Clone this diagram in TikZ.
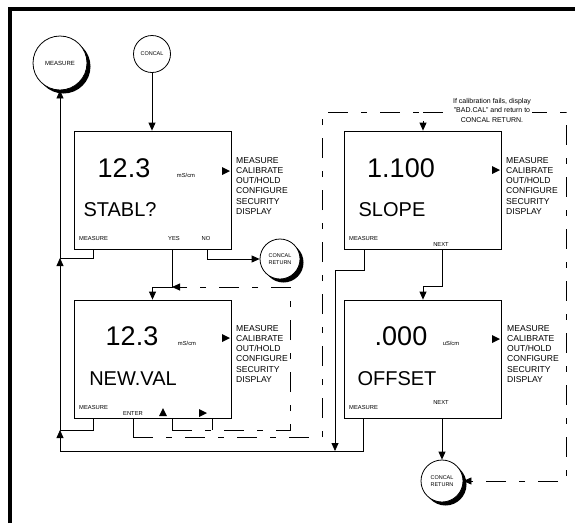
\documentclass[tikz,border=0pt]{standalone}
\usepackage{fontspec}
\setmainfont{Liberation Sans}
\usepackage{tikz}
\usetikzlibrary{arrows.meta}
\usetikzlibrary{shadows}

\newcommand{\menulist}{MEASURE\\CALIBRATE\\OUT/HOLD\\CONFIGURE\\SECURITY\\DISPLAY}

\tikzset{
    screen/.style = {draw, line width=0.8pt, minimum width=157pt, minimum height=118pt, inner sep=0pt},
    reading/.style = {font=\fontsize{27}{27}\selectfont},
    prompt/.style = {font=\fontsize{20}{20}\selectfont},
    keytext/.style = {font=\fontsize{5.8}{6}\selectfont, inner sep=0pt},
    menutext/.style = {font=\fontsize{8.6}{10.2}\selectfont, align=left, anchor=north west, inner sep=0pt},
    station/.style = {draw, circle, fill=white, line width=0.8pt, inner sep=0pt, align=center, font=\fontsize{5.5}{7}\selectfont},
    shade/.style = {drop shadow={shadow xshift=3.5pt, shadow yshift=-3.5pt, fill=black, opacity=1}},
    wire/.style = {line width=0.8pt},
    link/.style = {wire, -{Triangle[length=8pt,width=7pt]}},
    dashlink/.style = {link, dash pattern=on 20pt off 13pt on 6pt off 13pt},
    pointer/.pic = {\fill (-4,-4) -- (4,0) -- (-4,4) -- cycle;}
}

\begin{document}
\begin{tikzpicture}[x=1pt, y=-1pt]
        \useasboundingbox (0,0) rectangle (575,523);
        \draw[line width=4pt] (10,523) -- (10,9) -- (575,9);

        % round stations
        \node[station, shade, minimum size=54pt, font=\fontsize{6}{7}\selectfont] (measure) at (60,63) {MEASURE};
        \node[station, minimum size=37pt] (concal) at (152,54) {CONCAL};
        \node[station, shade, minimum size=40pt] (ret1) at (280,259) {CONCAL\\RETURN};
        \node[station, shade, minimum size=42pt] (ret2) at (442,481) {CONCAL\\RETURN};

        % STABL? screen
        \begin{scope}
            \node[screen] (stabl) at (152.5,190) {};
            \node[reading] (stabl-val) at (124,168) {12.3};
            \node[keytext] (stabl-unit) at (186,175) {mS/cm};
            \node[prompt] (stabl-msg) at (120,210) {STABL?};
            \node[keytext, anchor=west] (stabl-k1) at (79,238) {MEASURE};
            \node[keytext] (stabl-k2) at (174,238) {YES};
            \node[keytext] (stabl-k3) at (206,238) {NO};
            \pic at (226,171) {pointer};
            \node[menutext] (stabl-menu) at (236,157) {\menulist};
        \end{scope}

        % NEW.VAL screen
        \begin{scope}
            \node[screen] (newval) at (152.5,359) {};
            \node[reading] (newval-val) at (132,336) {12.3};
            \node[keytext] (newval-unit) at (187,343) {mS/cm};
            \node[prompt] (newval-msg) at (133,379) {NEW.VAL};
            \node[keytext, anchor=west] (newval-k1) at (79,407) {MEASURE};
            \node[keytext] (newval-k2) at (133,413) {ENTER};
            \pic[rotate=90] at (163,412) {pointer};
            \pic at (203,413) {pointer};
            \pic at (226,338) {pointer};
            \node[menutext] (newval-menu) at (236,325) {\menulist};
        \end{scope}

        % SLOPE screen
        \begin{scope}
            \node[screen] (slope) at (423,190) {};
            \node[reading] (slope-val) at (401,168) {1.100};
            \node[prompt] (slope-msg) at (392,210) {SLOPE};
            \node[keytext, anchor=west] (slope-k1) at (349,238) {MEASURE};
            \node[keytext] (slope-k2) at (441,244) {NEXT};
            \pic at (496,170) {pointer};
            \node[menutext] (slope-menu) at (506,157) {\menulist};
        \end{scope}

        % OFFSET screen
        \begin{scope}
            \node[screen] (offset) at (423,359) {};
            \node[reading] (offset-val) at (401,336) {.000};
            \node[keytext] (offset-unit) at (451,343) {uS/cm};
            \node[prompt] (offset-msg) at (397,379) {OFFSET};
            \node[keytext, anchor=west] (offset-k1) at (349,407) {MEASURE};
            \node[keytext] (offset-k2) at (441,402) {NEXT};
            \pic at (496,339) {pointer};
            \node[menutext] (offset-menu) at (507,325) {\menulist};
        \end{scope}

        % key ports and bends
        \coordinate (stabl-meas) at (93,249);
        \coordinate (stabl-yes) at (172,249);
        \coordinate (stabl-no) at (207,249);
        \coordinate (newval-meas) at (93,418);
        \coordinate (newval-enter) at (133,418);
        \coordinate (newval-up) at (172,418);
        \coordinate (newval-right) at (212,418);
        \coordinate (slope-meas) at (364,249);
        \coordinate (slope-next) at (442,249);
        \coordinate (offset-meas) at (363,418);
        \coordinate (offset-next) at (442,418);

        \coordinate (jn-high) at (60,258);
        \coordinate (jn-low) at (60,430);
        \coordinate (bot-left) at (60,451);
        \coordinate (sl-bend) at (335,270);
        \coordinate (sl-join) at (335,451);
        \coordinate (yes-jn) at (172,287);
        \coordinate (loop-a) at (172,430);
        \coordinate (loop-c) at (290,287);
        \coordinate (ent-a) at (133,437);
        \coordinate (ent-b) at (322,112);
        \coordinate (fail-a) at (566,112);
        \coordinate (next-bend) at (442,286);

        % back to MEASURE
        \draw[link] (bot-left) -- (jn-low);
        \draw[link] (jn-low) -- (jn-high);
        \draw[link] (jn-high) -- (measure);
        \draw[wire] (stabl-meas) |- (jn-high);
        \draw[wire] (newval-meas) |- (jn-low);
        \draw[wire] (offset-meas) |- (bot-left);
        \draw[link] (slope-meas) |- (sl-bend) -- (sl-join);

        \draw[link] (concal) -- (concal |- stabl.north);
        \draw[link] (stabl-yes) -- (yes-jn) -| (newval.north);
        \draw[link] (stabl-no) |- (ret1);

        \draw[wire] (newval-up) -- (loop-a);
        \draw[wire] (newval-right) -- (newval-right |- loop-a);
        \draw[dashlink] (loop-a) -| (loop-c) -- (yes-jn);

        \draw[wire] (newval-enter) -- (ent-a);
        \draw[dashlink] (ent-a) -| (ent-b) -| (slope.north);
        \draw[dashlink] (slope.north |- ent-b) -- (fail-a) |- (ret2);

        \draw[link] (slope-next) -- (next-bend) -| (offset.north);
        \draw[link] (offset-next) -- (ret2);

        \node[fill=white, align=center, inner sep=1pt, font=\fontsize{7}{9.5}\selectfont] (failnote) at (492,110) {If calibration fails, display\\"BAD.CAL" and return to\\CONCAL RETURN.};
\end{tikzpicture}
\end{document}
